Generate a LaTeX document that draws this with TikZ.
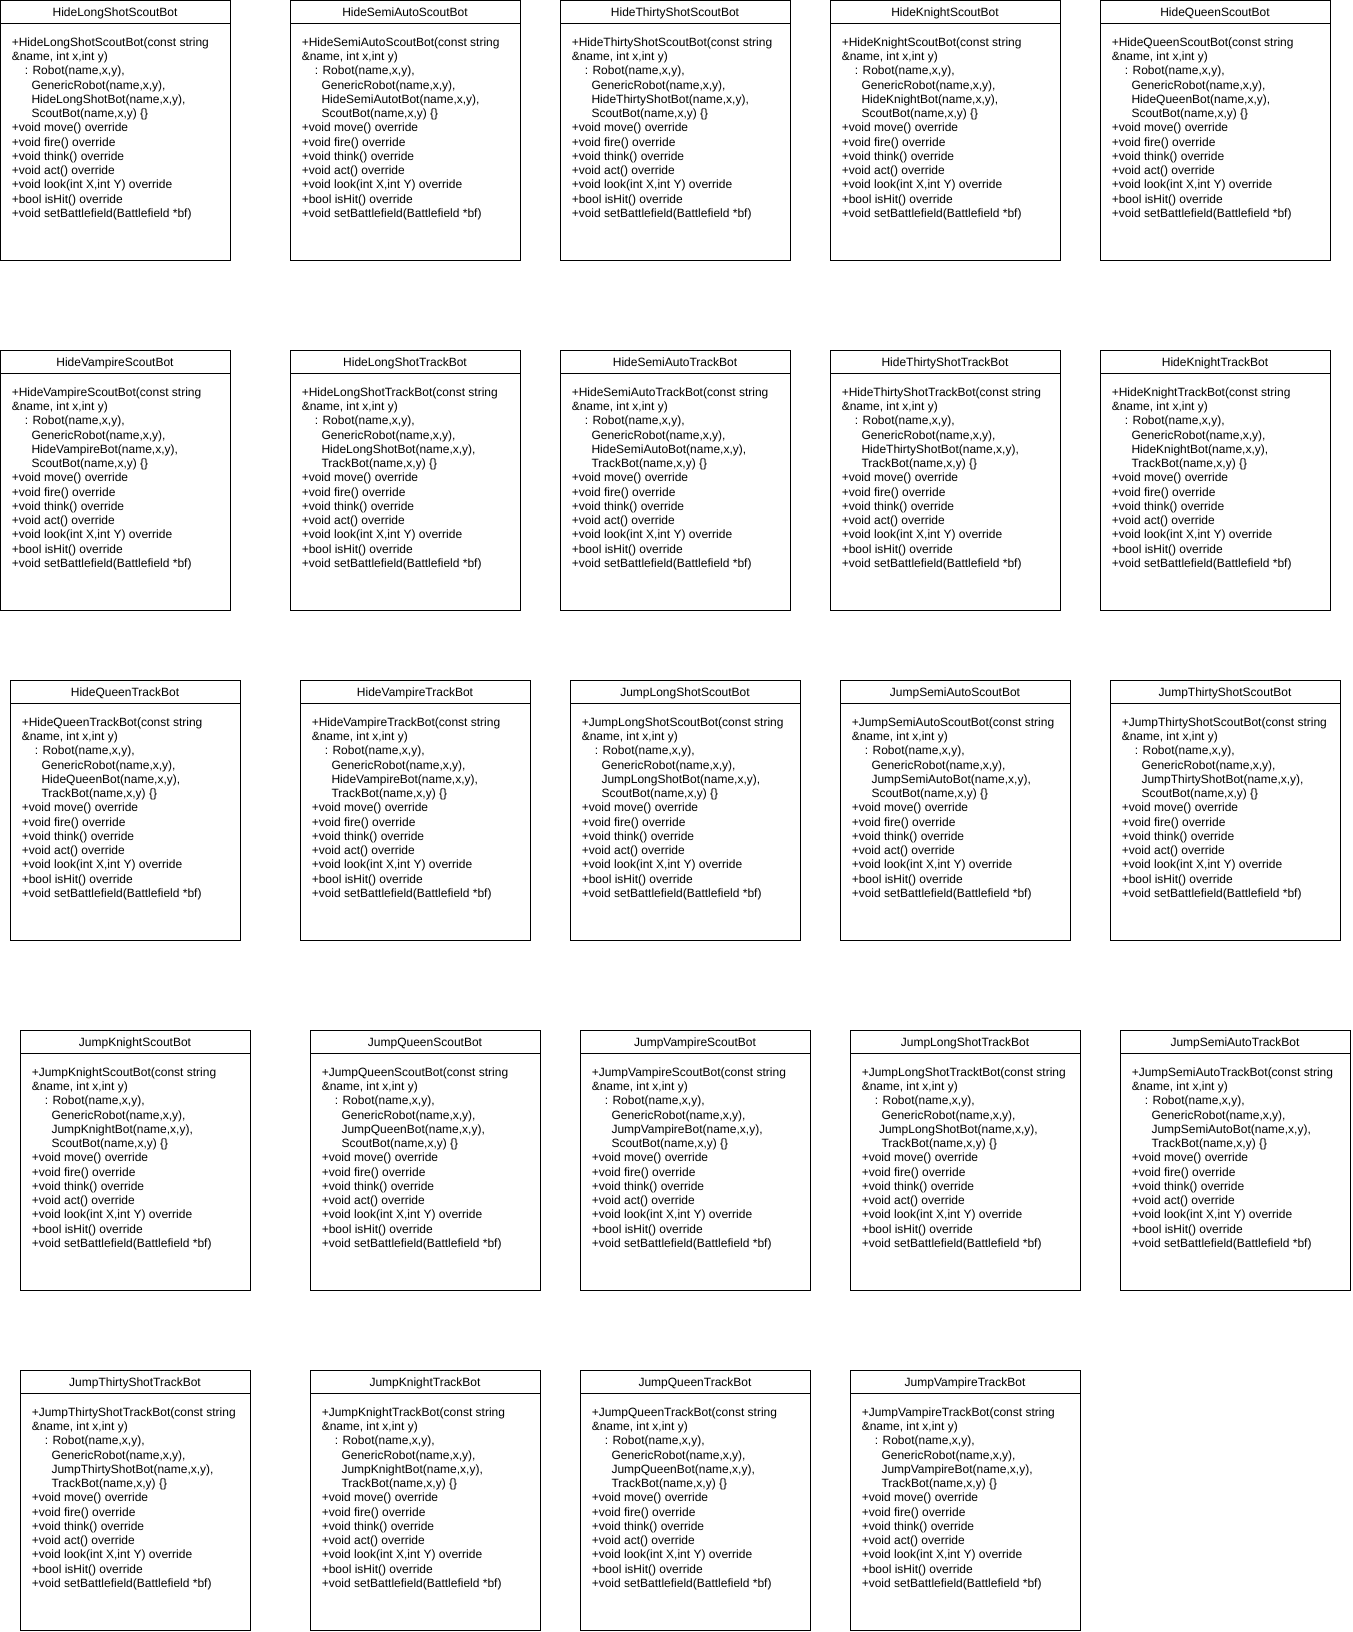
\documentclass[tikz,border=0pt]{standalone}
\usepackage{fontspec}
\setmainfont{Liberation Sans}
\tikzset{
  classbox/.style={draw=black, line width=1pt, fill=white, rectangle, minimum width=230pt, minimum height=260pt, inner sep=0pt, outer sep=0pt, anchor=north west},
  txt/.style={inner sep=0pt, outer sep=0pt, anchor=base west, font=\fontsize{12}{14.25}\selectfont, text=black},
  ttl/.style={inner sep=0pt, outer sep=0pt, anchor=base, font=\fontsize{12}{14.25}\selectfont, text=black},
  sep/.style={draw=black, line width=1pt}
}
\newcommand\DrawBot[8]{%
  \node[classbox] (#1) at (#2+0.5,#3+0.5) {};
  \draw[sep] ([yshift=-23pt]#1.north west) -- ([yshift=-23pt]#1.north east);
  \node[ttl] (#1-t) at (#2+115,#3+16.3) {#4};
  \node[txt] (#1-l1) at (#2+11.8,#3+46.3) {+#5(const string};
  \node[txt] (#1-l2) at (#2+11.8,#3+60.55) {\&name, int x,int y)};
  \node[txt] (#1-l3) at (#2+24.8,#3+74.8) {: Robot(name,x,y),};
  \node[txt] (#1-l4) at (#2+31.5,#3+89.05) {GenericRobot(name,x,y),};
  \node[txt] (#1-l5) at (#2+#8,#3+103.3) {#6(name,x,y),};
  \node[txt] (#1-l6) at (#2+31.5,#3+117.55) {#7(name,x,y) \{\}};
  \node[txt] (#1-l7) at (#2+11.8,#3+131.8) {+void move() override};
  \node[txt] (#1-l8) at (#2+11.8,#3+146.05) {+void fire() override};
  \node[txt] (#1-l9) at (#2+11.8,#3+160.3) {+void think() override};
  \node[txt] (#1-l10) at (#2+11.8,#3+174.55) {+void act() override};
  \node[txt] (#1-l11) at (#2+11.8,#3+188.8) {+void look(int X,int Y) override};
  \node[txt] (#1-l12) at (#2+11.8,#3+203.05) {+bool isHit() override};
  \node[txt] (#1-l13) at (#2+11.8,#3+217.3) {+void setBattlefield(Battlefield *bf)};
}
\begin{document}
\begin{tikzpicture}[x=1pt,y=-1pt]
\useasboundingbox[fill=white] (0,0) rectangle (1352,1632);
% Row 1
\DrawBot{b1}{0}{0}{HideLongShotScoutBot}{HideLongShotScoutBot}{HideLongShotBot}{ScoutBot}{31.5}
\DrawBot{b2}{290}{0}{HideSemiAutoScoutBot}{HideSemiAutoScoutBot}{HideSemiAutotBot}{ScoutBot}{31.5}
\DrawBot{b3}{560}{0}{HideThirtyShotScoutBot}{HideThirtyShotScoutBot}{HideThirtyShotBot}{ScoutBot}{31.5}
\DrawBot{b4}{830}{0}{HideKnightScoutBot}{HideKnightScoutBot}{HideKnightBot}{ScoutBot}{31.5}
\DrawBot{b5}{1100}{0}{HideQueenScoutBot}{HideQueenScoutBot}{HideQueenBot}{ScoutBot}{31.5}
% Row 2
\DrawBot{b6}{0}{350}{HideVampireScoutBot}{HideVampireScoutBot}{HideVampireBot}{ScoutBot}{31.5}
\DrawBot{b7}{290}{350}{HideLongShotTrackBot}{HideLongShotTrackBot}{HideLongShotBot}{TrackBot}{31.5}
\DrawBot{b8}{560}{350}{HideSemiAutoTrackBot}{HideSemiAutoTrackBot}{HideSemiAutoBot}{TrackBot}{31.5}
\DrawBot{b9}{830}{350}{HideThirtyShotTrackBot}{HideThirtyShotTrackBot}{HideThirtyShotBot}{TrackBot}{31.5}
\DrawBot{b10}{1100}{350}{HideKnightTrackBot}{HideKnightTrackBot}{HideKnightBot}{TrackBot}{31.5}
% Row 3
\DrawBot{b11}{10}{680}{HideQueenTrackBot}{HideQueenTrackBot}{HideQueenBot}{TrackBot}{31.5}
\DrawBot{b12}{300}{680}{HideVampireTrackBot}{HideVampireTrackBot}{HideVampireBot}{TrackBot}{31.5}
\DrawBot{b13}{570}{680}{JumpLongShotScoutBot}{JumpLongShotScoutBot}{JumpLongShotBot}{ScoutBot}{31.5}
\DrawBot{b14}{840}{680}{JumpSemiAutoScoutBot}{JumpSemiAutoScoutBot}{JumpSemiAutoBot}{ScoutBot}{31.5}
\DrawBot{b15}{1110}{680}{JumpThirtyShotScoutBot}{JumpThirtyShotScoutBot}{JumpThirtyShotBot}{ScoutBot}{31.5}
% Row 4
\DrawBot{b16}{20}{1030}{JumpKnightScoutBot}{JumpKnightScoutBot}{JumpKnightBot}{ScoutBot}{31.5}
\DrawBot{b17}{310}{1030}{JumpQueenScoutBot}{JumpQueenScoutBot}{JumpQueenBot}{ScoutBot}{31.5}
\DrawBot{b18}{580}{1030}{JumpVampireScoutBot}{JumpVampireScoutBot}{JumpVampireBot}{ScoutBot}{31.5}
\DrawBot{b19}{850}{1030}{JumpLongShotTrackBot}{JumpLongShotTracktBot}{JumpLongShotBot}{TrackBot}{29}
\DrawBot{b20}{1120}{1030}{JumpSemiAutoTrackBot}{JumpSemiAutoTrackBot}{JumpSemiAutoBot}{TrackBot}{31.5}
% Row 5
\DrawBot{b21}{20}{1370}{JumpThirtyShotTrackBot}{JumpThirtyShotTrackBot}{JumpThirtyShotBot}{TrackBot}{31.5}
\DrawBot{b22}{310}{1370}{JumpKnightTrackBot}{JumpKnightTrackBot}{JumpKnightBot}{TrackBot}{31.5}
\DrawBot{b23}{580}{1370}{JumpQueenTrackBot}{JumpQueenTrackBot}{JumpQueenBot}{TrackBot}{31.5}
\DrawBot{b24}{850}{1370}{JumpVampireTrackBot}{JumpVampireTrackBot}{JumpVampireBot}{TrackBot}{31.5}
\end{tikzpicture}
\end{document}
